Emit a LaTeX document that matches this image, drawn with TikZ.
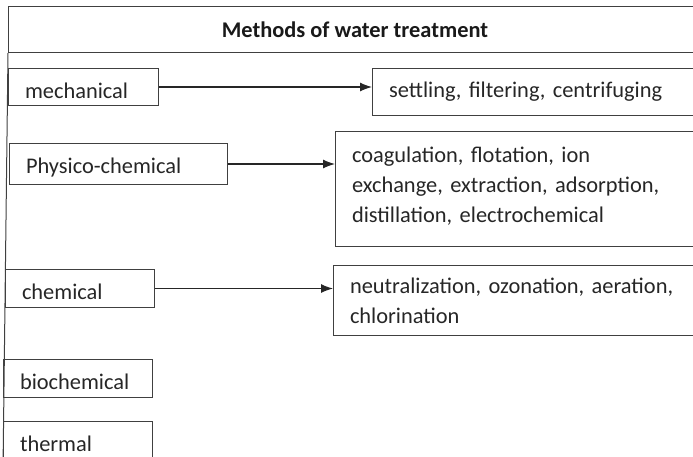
\documentclass[tikz,border=0pt]{standalone}
\usepackage{fontspec}
\setmainfont{Carlito}
\usepackage{tikz}
\usetikzlibrary{arrows.meta, positioning}

\tikzset{
    frame/.style={draw=black!75, line width=1pt},
    box/.style={frame, anchor=north west, inner xsep=16.5pt, inner ysep=0pt,
        text width=#1, align=left, text=black!85,
        font=\fontsize{22.4}{30}\selectfont},
    oneline/.style={execute at begin node={\rule{0pt}{23pt}}},
    header/.style={frame, anchor=north west, minimum width=693pt,
        minimum height=46pt, text=black!90,
        font=\fontsize{22.4}{30}\selectfont\bfseries},
    link/.style={->, black!85, line width=1.2pt}
}

\begin{document}
\begin{tikzpicture}[x=1pt, y=-1pt, >={Latex[length=12pt, width=9pt]}]
    \useasboundingbox (0,0) rectangle (693,456);
    \clip (0,0) rectangle (693,456);

    % Heading and left frame line
    \node[header] (title) at (8,6) {Methods of water treatment};
    \coordinate (base) at (3,470);
    \draw[frame] (title.south west) -- (base);

    % Methods
    \node[box=117pt, oneline, minimum height=37pt] (mech) at (8,68) {mechanical};
    \node[box=185pt, oneline, minimum height=41pt] (phys) at (9,143) {Physico-chemical};
    \node[box=116pt, oneline, minimum height=38pt] (chem) at (5,269) {chemical};
    \node[box=116pt, oneline, minimum height=38pt] (bio) at (3,359) {biochemical};
    \node[box=116pt, oneline, minimum height=38pt] (therm) at (3,421) {thermal};

    % Processes
    \node[box=335pt, minimum height=47pt] (settle) at (372,68)
        {settling, filtering, centrifuging};
    \node[box=372pt, minimum height=115pt] (coag) at (335,131)
        {coagulation, flotation, ion\\ exchange, extraction, adsorption,\\ distillation, electrochemical\rule[-9pt]{0pt}{0pt}};
    \node[box=374pt, minimum height=70pt] (neut) at (333,265)
        {neutralization, ozonation, aeration,\\ chlorination};

    % Links
    \draw[link] (mech.east) -- (settle.west |- mech.east);
    \draw[link] (phys.east) -- (coag.west |- phys.east);
    \draw[link] (chem.east) -- (neut.west |- chem.east);

\end{tikzpicture}
\end{document}
